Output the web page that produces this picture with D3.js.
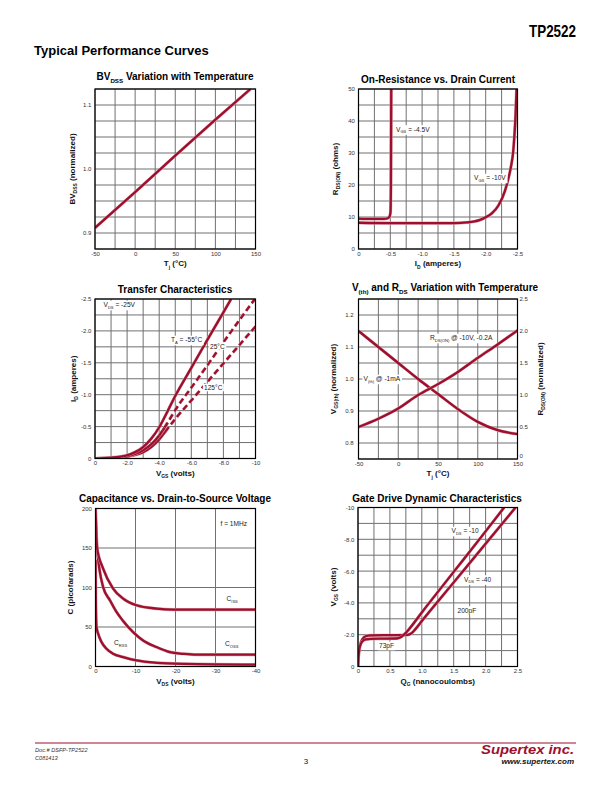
<!DOCTYPE html>
<html><head><meta charset="utf-8">
<script src="https://cdn.jsdelivr.net/npm/d3@7"></script>
<style>
body{margin:0;background:#fff}
svg{display:block}
text{font-family:"Liberation Sans",Arial,Helvetica,sans-serif}
</style>
</head><body>
<svg id="page" width="612" height="792"></svg>
<script>
// ---------------- DATA ----------------
// Chart 1: BVdss vs Tj
const bvTemp = [-50, 0, 50, 100, 143.8];
const bvNorm = [0.908, 0.964, 1.021, 1.077, 1.125];
const tjTicks = [-50, 0, 50, 100, 150];
const tjLabels = ["-50", "0", "50", "100", "150"];
const bvTicks = [0.9, 1.0, 1.1];
const bvLabels = ["0.9", "1.0", "1.1"];

// Chart 2: On-resistance vs drain current
const idAxisTicks = [0, -0.5, -1.0, -1.5, -2.0, -2.5];
const idAxisLabels = ["0", "-0.5", "-1.0", "-1.5", "-2.0", "-2.5"];
const ohmTicks = [0, 10, 20, 30, 40, 50];
const ohmLabels = ["0", "10", "20", "30", "40", "50"];
const rId45 = [0, -0.2, -0.4, -0.46, -0.49, -0.503, -0.51, -0.515];
const rOhm45 = [9.5, 9.4, 9.4, 9.6, 10.2, 11.5, 20, 50];
const rId10 = [0, -0.5, -1.0, -1.5, -1.7, -1.9, -2.0, -2.1, -2.2, -2.3, -2.35, -2.4, -2.43, -2.45, -2.47, -2.485];
const rOhm10 = [8.2, 8.1, 8.1, 8.1, 8.3, 9.0, 9.9, 11.2, 13.6, 18, 21.5, 26, 30, 35, 42, 50];

// Chart 3: Transfer characteristics
const vgsTicks = [0, -2, -4, -6, -8, -10];
const vgsLabels = ["0", "-2.0", "-4.0", "-6.0", "-8.0", "-10"];
const idTicks = [0, -0.5, -1.0, -1.5, -2.0, -2.5];
const idLabels = ["0", "-0.5", "-1.0", "-1.5", "-2.0", "-2.5"];
const trVm55 = [0, -1, -1.5, -2, -2.5, -3, -3.5, -4, -4.5, -5, -6, -7, -8, -8.48];
const trIm55 = [0, -0.015, -0.025, -0.05, -0.1, -0.18, -0.31, -0.49, -0.73, -0.98, -1.42, -1.86, -2.29, -2.5];
const trV25 = [0, -1, -1.5, -2, -2.5, -3, -3.5, -4, -4.5, -5, -6, -7, -8, -9, -9.96];
const trI25 = [0, -0.012, -0.02, -0.035, -0.07, -0.13, -0.22, -0.36, -0.55, -0.76, -1.11, -1.46, -1.82, -2.17, -2.5];
const trV125 = [0, -1, -1.5, -2, -2.5, -3, -3.5, -4, -4.5, -5, -6, -7, -8, -9, -10];
const trI125 = [0, -0.01, -0.018, -0.03, -0.055, -0.1, -0.18, -0.3, -0.46, -0.62, -0.91, -1.2, -1.49, -1.78, -2.07];

// Chart 4: Vth and Rds vs temperature
const vthTicks = [0.8, 0.9, 1.0, 1.1, 1.2];
const vthLabels = ["0.8", "0.9", "1.0", "1.1", "1.2"];
const rnTicks = [0, 0.5, 1.0, 1.5, 2.0, 2.5];
const rnLabels = ["0", "0.5", "1.0", "1.5", "2.0", "2.5"];
const vrTemp = [-50, -25, 0, 25, 50, 75, 100, 125, 150];
const vthNorm = [1.15, 1.10, 1.05, 1.0, 0.953, 0.906, 0.866, 0.84, 0.828];
const rdsNorm = [0.5, 0.63, 0.79, 1.0, 1.17, 1.36, 1.58, 1.79, 2.01];

// Chart 5: Capacitance vs Vds
const vdsTicks = [0, -10, -20, -30, -40];
const vdsLabels = ["0", "-10", "-20", "-30", "-40"];
const capTicks = [0, 50, 100, 150, 200];
const capLabels = ["0", "50", "100", "150", "200"];
const cissV = [0, -0.4, -1.9, -4.4, -6.9, -10.25, -15.25, -19.4, -25, -40];
const cissC = [200, 150, 124, 98.7, 86, 77.5, 73.3, 72, 72, 72];
const cossV = [0, -0.4, -1.9, -3.6, -5.25, -6.9, -9.4, -11.9, -15.25, -18.6, -21.9, -25.25, -40];
const cossC = [200, 150, 100.8, 83.9, 69, 57.6, 43.6, 33, 24.6, 18.2, 16.1, 15, 15];
const crssV = [0, -0.08, -0.25, -0.67, -1.5, -2.75, -4.4, -6.9, -10.25, -15.25, -21.9, -40];
const crssC = [135, 84, 50, 41.5, 31, 22.5, 16.1, 11.9, 7.6, 4.7, 3.4, 2.5];

// Chart 6: Gate drive dynamic characteristics
const qgTicks = [0, 0.5, 1.0, 1.5, 2.0, 2.5];
const qgLabels = ["0", "0.5", "1.0", "1.5", "2.0", "2.5"];
const vgTicks = [0, -2, -4, -6, -8, -10];
const vgLabels = ["0", "-2.0", "-4.0", "-6.0", "-8.0", "-10"];
const gdQ10 = [0, 0.01, 0.02, 0.04, 0.07, 0.12, 0.2, 0.4, 0.6, 0.66, 0.72, 0.8, 1.0, 1.5, 2.0, 2.29];
const gdV10 = [0, -0.7, -1.05, -1.38, -1.58, -1.7, -1.74, -1.75, -1.76, -1.82, -2.0, -2.35, -3.4, -5.95, -8.5, -10];
const gdQ40 = [0, 0.01, 0.02, 0.04, 0.07, 0.12, 0.2, 0.4, 0.6, 0.78, 0.84, 0.9, 1.0, 1.5, 2.0, 2.47];
const gdV40 = [0, -0.75, -1.1, -1.45, -1.72, -1.9, -1.96, -1.97, -1.97, -1.99, -2.1, -2.35, -2.86, -5.29, -7.72, -10];

// ---------------- DRAWING ----------------
const RED = "#9e0f2d";
const GRID = "#707070";
const TICKC = "#333";
const svg = d3.select("#page");
const FONT = '"Liberation Sans", Arial, Helvetica, sans-serif';
let clipId = 0;

function rich(parent, segs, x, y, o) {
  o = o || {};
  const fs = o.size || 8;
  const t = parent.append("text")
    .attr("x", x).attr("y", y)
    .attr("font-size", fs)
    .attr("font-weight", o.bold ? "bold" : "normal")
    .attr("font-style", o.italic ? "italic" : "normal")
    .attr("fill", o.fill || "#111")
    .attr("text-anchor", o.anchor || "start");
  if (o.transform) t.attr("transform", o.transform);
  let inSub = false;
  const shift = fs * 0.3;
  segs.forEach(s => {
    const ts = t.append("tspan").text(s.t);
    if (s.sub && !inSub) { ts.attr("dy", shift).attr("font-size", fs * 0.62); inSub = true; }
    else if (s.sub) { ts.attr("font-size", fs * 0.62); }
    else if (!s.sub && inSub) { ts.attr("dy", -shift); inSub = false; }
  });
  return t;
}

function boxLabel(parent, segs, x, y, o) {
  const g = parent.append("g");
  const t = rich(g, segs, x, y, Object.assign({size: 6.6, fill: "#222"}, o || {}));
  const b = t.node().getBBox();
  g.insert("rect", "text")
    .attr("x", b.x - 1.2).attr("y", b.y - 0.3)
    .attr("width", b.width + 2.4).attr("height", b.height + 0.6)
    .attr("fill", "#fff");
  return g;
}

function chart(cfg) {
  const b = cfg.box;
  const xs = d3.scaleLinear().domain(cfg.xDomain).range([b.x0, b.x1]);
  const ys = d3.scaleLinear().domain(cfg.yDomain).range([b.y1, b.y0]);
  const g = svg.append("g");
  // grid
  const xg = d3.range(cfg.xDiv + 1).map(i => cfg.xDomain[0] + (cfg.xDomain[1] - cfg.xDomain[0]) * i / cfg.xDiv);
  const yg = d3.range(cfg.yDiv + 1).map(i => cfg.yDomain[0] + (cfg.yDomain[1] - cfg.yDomain[0]) * i / cfg.yDiv);
  g.selectAll(".vg").data(xg).join("line")
    .attr("x1", d => xs(d)).attr("x2", d => xs(d))
    .attr("y1", b.y0).attr("y2", b.y1)
    .attr("stroke", GRID).attr("stroke-width", 1);
  g.selectAll(".hg").data(yg).join("line")
    .attr("y1", d => ys(d)).attr("y2", d => ys(d))
    .attr("x1", b.x0).attr("x2", b.x1)
    .attr("stroke", GRID).attr("stroke-width", 1);
  // axes (labels only)
  const ax = d3.axisBottom(xs).tickValues(cfg.xTicks).tickFormat((d, i) => cfg.xLabels[i]).tickSize(0).tickPadding(2.4);
  const axg = g.append("g").attr("transform", `translate(0,${b.y1})`).call(ax);
  const ay = d3.axisLeft(ys).tickValues(cfg.yTicks).tickFormat((d, i) => cfg.yLabels[i]).tickSize(0).tickPadding(cfg.yPad || 3.6);
  const ayg = g.append("g").attr("transform", `translate(${b.x0},0)`).call(ay);
  let ays2 = null;
  if (cfg.y2Domain) {
    ays2 = d3.scaleLinear().domain(cfg.y2Domain).range([b.y1, b.y0]);
    const ay2 = d3.axisRight(ays2).tickValues(cfg.y2Ticks).tickFormat((d, i) => cfg.y2Labels[i]).tickSize(0).tickPadding(2);
    const ay2g = g.append("g").attr("transform", `translate(${b.x1},0)`).call(ay2);
    ay2g.select(".domain").remove();
    ay2g.selectAll("text").attr("font-size", 6).attr("font-family", FONT).attr("fill", TICKC);
    ay2g.selectAll(".tick").filter(d => d === 0).select("text").attr("dy", "-0.2em");
  }
  [axg, ayg].forEach(a => {
    a.select(".domain").remove();
    a.selectAll("text").attr("font-size", 6).attr("font-family", FONT).attr("fill", TICKC);
  });
  // clip
  const cid = "clip" + (clipId++);
  g.append("clipPath").attr("id", cid).append("rect")
    .attr("x", b.x0).attr("y", b.y0).attr("width", b.x1 - b.x0).attr("height", b.y1 - b.y0);
  const plot = g.append("g").attr("clip-path", `url(#${cid})`);
  // border
  g.append("rect").attr("x", b.x0).attr("y", b.y0).attr("width", b.x1 - b.x0).attr("height", b.y1 - b.y0)
    .attr("fill", "none").attr("stroke", "#000").attr("stroke-width", 1.2);
  // titles
  rich(g, cfg.title, cfg.titlePos[0], cfg.titlePos[1], {size: 10, bold: true, anchor: "middle", fill: "#000"});
  rich(g, cfg.xTitle, (b.x0 + b.x1) / 2, b.y1 + 17.2, {size: 8, bold: true, anchor: "middle", fill: "#111"});
  rich(g, cfg.yTitle, 0, 0, {size: 8, bold: true, anchor: "middle", fill: "#111",
    transform: `translate(${cfg.yTitleX},${(b.y0 + b.y1) / 2}) rotate(-90)`});
  if (cfg.y2Title) rich(g, cfg.y2Title, 0, 0, {size: 8, bold: true, anchor: "middle", fill: "#111",
    transform: `translate(${cfg.y2TitleX},${(b.y0 + b.y1) / 2}) rotate(-90)`});
  return {g, plot, xs, ys, ys2: ays2};
}

function curve(c, xsArr, ysArr, opts) {
  opts = opts || {};
  const yscale = opts.y2 ? c.ys2 : c.ys;
  const pts = xsArr.map((x, i) => [x, ysArr[i]]);
  const line = d3.line().x(d => c.xs(d[0])).y(d => yscale(d[1])).curve(opts.curve || d3.curveMonotoneX);
  c.plot.append("path").attr("d", line(pts)).attr("fill", "none")
    .attr("stroke", "#d8a0ab").attr("stroke-width", 3.1).attr("stroke-linejoin", "round")
    .attr("stroke-dasharray", opts.dash || null);
  c.plot.append("path").attr("d", line(pts)).attr("fill", "none")
    .attr("stroke", RED).attr("stroke-width", 2.3).attr("stroke-linejoin", "round")
    .attr("stroke-dasharray", opts.dash || null);
}

// ---- header ----
svg.append("text").attr("x", 576).attr("y", 36.5).attr("text-anchor", "end")
  .attr("font-size", 17).attr("font-weight", "bold").attr("textLength", 47).attr("lengthAdjust", "spacingAndGlyphs")
  .attr("fill", "#000").text("TP2522");
svg.append("text").attr("x", 34).attr("y", 54.5)
  .attr("font-size", 13).attr("font-weight", "bold").attr("fill", "#000").text("Typical Performance Curves");

// ---- Chart 1 ----
const c1 = chart({
  box: {x0: 95, x1: 255.5, y0: 89, y1: 249},
  xDomain: [-50, 150], xDiv: 8, yDomain: [0.875, 1.125], yDiv: 10,
  xTicks: tjTicks, xLabels: tjLabels, yTicks: bvTicks, yLabels: bvLabels,
  title: [{t: "BV"}, {t: "DSS", sub: 1}, {t: " Variation with Temperature"}], titlePos: [175, 79.5],
  xTitle: [{t: "T"}, {t: "j", sub: 1}, {t: " (°C)"}],
  yTitle: [{t: "BV"}, {t: "DSS", sub: 1}, {t: " (normalized)"}], yTitleX: 74.5
});
curve(c1, bvTemp, bvNorm, {curve: d3.curveLinear});

// ---- Chart 2 ----
const c2 = chart({
  box: {x0: 358.5, x1: 517.5, y0: 89, y1: 249},
  xDomain: [0, -2.5], xDiv: 10, yDomain: [0, 50], yDiv: 10,
  xTicks: idAxisTicks, xLabels: idAxisLabels, yTicks: ohmTicks, yLabels: ohmLabels,
  title: [{t: "On-Resistance vs. Drain Current"}], titlePos: [438, 83],
  xTitle: [{t: "I"}, {t: "D", sub: 1}, {t: " (amperes)"}],
  yTitle: [{t: "R"}, {t: "DS(ON)", sub: 1}, {t: " (ohms)"}], yTitleX: 338
});
curve(c2, rId45, rOhm45);
curve(c2, rId10, rOhm10);
boxLabel(c2.g, [{t: "V"}, {t: "GS", sub: 1}, {t: " = -4.5V"}], 396, 131.5);
boxLabel(c2.g, [{t: "V"}, {t: "GS", sub: 1}, {t: " = -10V"}], 474, 180);

// ---- Chart 3 ----
const c3 = chart({
  box: {x0: 95, x1: 255.5, y0: 299, y1: 458.5},
  xDomain: [0, -10], xDiv: 10, yDomain: [0, -2.5], yDiv: 10,
  xTicks: vgsTicks, xLabels: vgsLabels, yTicks: idTicks, yLabels: idLabels,
  title: [{t: "Transfer Characteristics"}], titlePos: [175, 292.5],
  xTitle: [{t: "V"}, {t: "GS", sub: 1}, {t: " (volts)"}],
  yTitle: [{t: "I"}, {t: "D", sub: 1}, {t: " (amperes)"}], yTitleX: 75.5
});
curve(c3, trV125.slice(0, 9), trI125.slice(0, 9));
curve(c3, trV125.slice(7), trI125.slice(7), {dash: "6,3.5"});
curve(c3, trV25.slice(0, 9), trI25.slice(0, 9));
curve(c3, trV25.slice(7), trI25.slice(7), {dash: "6,3.5"});
curve(c3, trVm55, trIm55);
boxLabel(c3.g, [{t: "V"}, {t: "DS", sub: 1}, {t: " = -25V"}], 103.5, 307);
boxLabel(c3.g, [{t: "T"}, {t: "A", sub: 1}, {t: " = -55°C"}], 171, 342);
boxLabel(c3.g, [{t: "25°C"}], 210, 348.5);
boxLabel(c3.g, [{t: "125°C"}], 204, 390);

// ---- Chart 4 ----
const c4 = chart({
  box: {x0: 358.5, x1: 517.5, y0: 299, y1: 459},
  xDomain: [-50, 150], xDiv: 8, yDomain: [0.75, 1.25], yDiv: 10,
  xTicks: tjTicks, xLabels: tjLabels, yTicks: vthTicks, yLabels: vthLabels, yPad: 5,
  y2Domain: [0, 2.5], y2Ticks: rnTicks, y2Labels: rnLabels,
  title: [{t: "V"}, {t: "(th)", sub: 1}, {t: " and R"}, {t: "DS", sub: 1}, {t: " Variation with Temperature"}], titlePos: [445, 290.5],
  xTitle: [{t: "T"}, {t: "j", sub: 1}, {t: " (°C)"}],
  yTitle: [{t: "V"}, {t: "GS(th)", sub: 1}, {t: " (normalized)"}], yTitleX: 336,
  y2Title: [{t: "R"}, {t: "DS(ON)", sub: 1}, {t: " (normalized)"}], y2TitleX: 542.5
});
curve(c4, vrTemp, vthNorm, {curve: d3.curveMonotoneX});
curve(c4, vrTemp, rdsNorm, {curve: d3.curveMonotoneX, y2: true});
boxLabel(c4.g, [{t: "R"}, {t: "DS(ON)", sub: 1}, {t: " @ -10V, -0.2A"}], 430, 340);
boxLabel(c4.g, [{t: "V"}, {t: "(th)", sub: 1}, {t: " @ -1mA"}], 363.5, 381);

// ---- Chart 5 ----
const c5 = chart({
  box: {x0: 95.5, x1: 255.5, y0: 508.5, y1: 666.5},
  xDomain: [0, -40], xDiv: 4, yDomain: [0, 200], yDiv: 4,
  xTicks: vdsTicks, xLabels: vdsLabels, yTicks: capTicks, yLabels: capLabels,
  title: [{t: "Capacitance vs. Drain-to-Source Voltage"}], titlePos: [175, 501.5],
  xTitle: [{t: "V"}, {t: "DS", sub: 1}, {t: " (volts)"}],
  yTitle: [{t: "C (picofarads)"}], yTitleX: 73
});
curve(c5, crssV, crssC, {curve: d3.curveMonotoneX});
curve(c5, cossV, cossC, {curve: d3.curveMonotoneX});
curve(c5, cissV, cissC, {curve: d3.curveMonotoneX});
boxLabel(c5.g, [{t: "f = 1MHz"}], 220.5, 525.5);
boxLabel(c5.g, [{t: "C"}, {t: "ISS", sub: 1}], 226.5, 601);
boxLabel(c5.g, [{t: "C"}, {t: "OSS", sub: 1}], 225, 646);
boxLabel(c5.g, [{t: "C"}, {t: "RSS", sub: 1}], 114, 645);

// ---- Chart 6 ----
const c6 = chart({
  box: {x0: 358, x1: 517.5, y0: 507.5, y1: 666.5},
  xDomain: [0, 2.5], xDiv: 10, yDomain: [0, -10], yDiv: 10,
  xTicks: qgTicks, xLabels: qgLabels, yTicks: vgTicks, yLabels: vgLabels,
  title: [{t: "Gate Drive Dynamic Characteristics"}], titlePos: [437, 501.5],
  xTitle: [{t: "Q"}, {t: "G", sub: 1}, {t: " (nanocoulombs)"}],
  yTitle: [{t: "V"}, {t: "GS", sub: 1}, {t: " (volts)"}], yTitleX: 336
});
curve(c6, gdQ40, gdV40, {curve: d3.curveMonotoneX});
curve(c6, gdQ10, gdV10, {curve: d3.curveMonotoneX});
boxLabel(c6.g, [{t: "V"}, {t: "DS", sub: 1}, {t: " = -10"}], 451.5, 533);
boxLabel(c6.g, [{t: "V"}, {t: "DS", sub: 1}, {t: " = -40"}], 464, 581.5);
boxLabel(c6.g, [{t: "200pF"}], 457.5, 612.5);
boxLabel(c6.g, [{t: "73pF"}], 379, 648);

// ---- footer ----
svg.append("line").attr("x1", 35).attr("x2", 576).attr("y1", 743).attr("y2", 743)
  .attr("stroke", RED).attr("stroke-width", 1);
svg.append("text").attr("x", 35).attr("y", 752).attr("font-size", 5.6).attr("font-style", "italic")
  .attr("fill", "#333").text("Doc.# DSFP-TP2522");
svg.append("text").attr("x", 35).attr("y", 759.5).attr("font-size", 5.6).attr("font-style", "italic")
  .attr("fill", "#333").text("C081413");
svg.append("text").attr("x", 306).attr("y", 764).attr("font-size", 8).attr("text-anchor", "middle")
  .attr("fill", "#111").text("3");
svg.append("text").attr("x", 574).attr("y", 754).attr("text-anchor", "end")
  .attr("font-size", 12).attr("font-weight", "bold").attr("font-style", "italic")
  .attr("textLength", 93).attr("lengthAdjust", "spacingAndGlyphs")
  .attr("fill", RED).text("Supertex inc.");
svg.append("text").attr("x", 574).attr("y", 764).attr("text-anchor", "end")
  .attr("font-size", 8).attr("font-weight", "bold").attr("font-style", "italic")
  .attr("fill", "#111").text("www.supertex.com");
</script>
</body></html>
